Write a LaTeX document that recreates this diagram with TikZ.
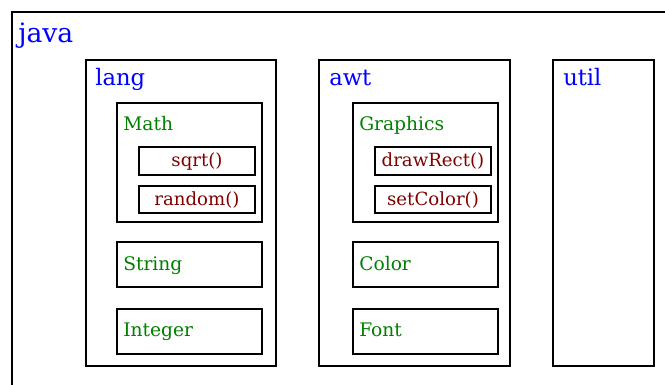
\documentclass[tikz,border=0pt]{standalone}
\usepackage{fontspec}
\setmainfont{DejaVu Serif}
\usetikzlibrary{fit}
\definecolor{pkgblue}{RGB}{0,0,255}
\definecolor{clsgreen}{RGB}{0,128,0}
\definecolor{mthred}{RGB}{128,0,0}
\tikzset{
  box/.style={draw=black, line width=1.65pt, inner sep=0pt, fill=none},
  pkgtext/.style={inner sep=0pt, anchor=base west, text=pkgblue, font=\fontsize{17}{20}\selectfont},
  roottext/.style={inner sep=0pt, anchor=base west, text=pkgblue, font=\fontsize{20}{24}\selectfont},
  clstext/.style={inner sep=0pt, anchor=base west, text=clsgreen, font=\fontsize{14}{17}\selectfont},
  mthtext/.style={inner sep=0pt, anchor=base, text=mthred, font=\fontsize{13.6}{16}\selectfont},
}
\begin{document}
\begin{tikzpicture}[x=0.75pt,y=-0.75pt]
\useasboundingbox (0,0) rectangle (665,385);
\clip (0,0) rectangle (665,385);
\fill[white] (0,0) rectangle (665,385);
% outer java package
\node[box, fit={(12,12) (700,420)}] (java) {};
\node[roottext] (javaT) at (18,42.5) {java};
% lang
\node[box, fit={(86,60) (276,366)}] (lang) {};
\node[pkgtext] (langT) at (95,86) {lang};
\node[box, fit={(117,103) (262,222)}] (math) {};
\node[clstext] (mathT) at (123,131) {Math};
\node[box, fit={(139,147) (255,175)}] (sqrt) {};
\node[mthtext] (sqrtT) at (197,166.5) {sqrt()};
\node[box, fit={(139,186) (255,213)}] (random) {};
\node[mthtext] (randomT) at (197,205) {random()};
\node[box, fit={(117,242) (262,287)}] (string) {};
\node[clstext] (stringT) at (123,270.5) {String};
\node[box, fit={(117,309) (262,354)}] (integer) {};
\node[clstext] (integerT) at (123,336.5) {Integer};
% awt
\node[box, fit={(319,60) (510,366)}] (awt) {};
\node[pkgtext] (awtT) at (329,86) {awt};
\node[box, fit={(353,103) (498,222)}] (graphics) {};
\node[clstext] (graphicsT) at (359,131) {Graphics};
\node[box, fit={(375,147) (491,175)}] (drawrect) {};
\node[mthtext] (drawrectT) at (433,166.5) {drawRect()};
\node[box, fit={(375,186) (491,213)}] (setcolor) {};
\node[mthtext] (setcolorT) at (433,205) {setColor()};
\node[box, fit={(353,242) (498,287)}] (color) {};
\node[clstext] (colorT) at (359,270.5) {Color};
\node[box, fit={(353,309) (498,354)}] (font) {};
\node[clstext] (fontT) at (359,336.5) {Font};
% util
\node[box, fit={(553,60) (654,366)}] (util) {};
\node[pkgtext] (utilT) at (563,86) {util};
\end{tikzpicture}
\end{document}
